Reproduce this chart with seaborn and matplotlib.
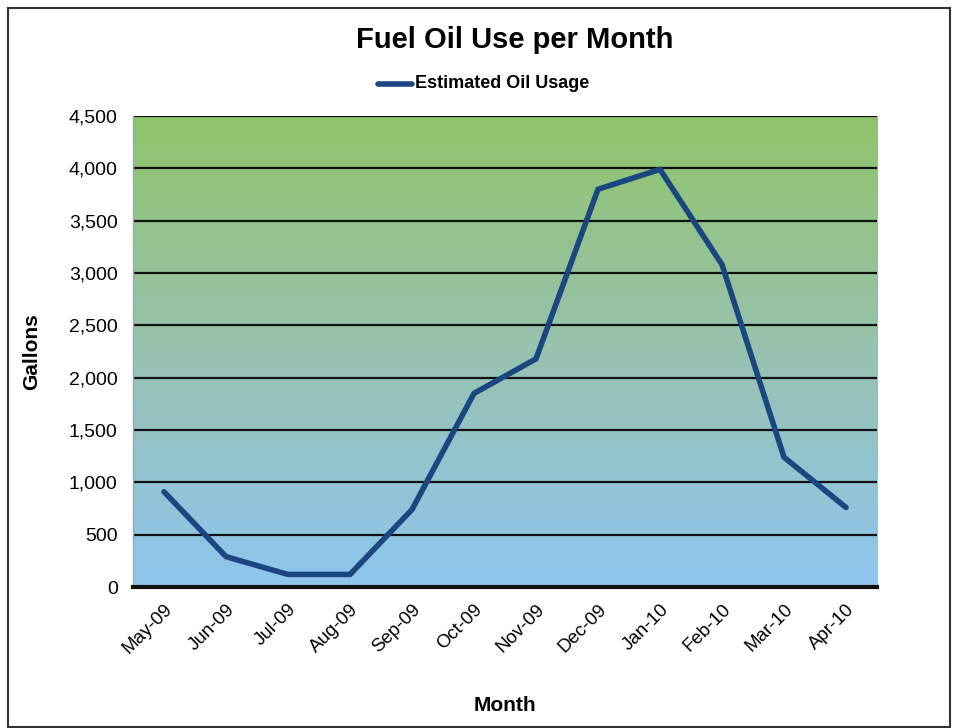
import numpy as np
import pandas as pd
import seaborn as sns
import matplotlib.pyplot as plt
from matplotlib.colors import LinearSegmentedColormap
from matplotlib.patches import Rectangle
from matplotlib.ticker import FuncFormatter, MultipleLocator

# Data
months = ["May-09", "Jun-09", "Jul-09", "Aug-09", "Sep-09", "Oct-09",
          "Nov-09", "Dec-09", "Jan-10", "Feb-10", "Mar-10", "Apr-10"]
gallons = [910, 290, 120, 120, 740, 1850, 2180, 3800, 3990, 3080, 1240, 760]

df = pd.DataFrame({"Month": months, "Gallons": gallons})
df["pos"] = np.arange(len(months))

sns.set_style("white")
plt.rcParams["font.family"] = ["Liberation Sans Narrow", "Liberation Sans", "DejaVu Sans"]
plt.rcParams["text.color"] = "black"
plt.rcParams["axes.labelcolor"] = "black"
plt.rcParams["xtick.color"] = "black"
plt.rcParams["ytick.color"] = "black"

fig = plt.figure(figsize=(9.55, 7.28), dpi=100)
ax = fig.add_axes([133 / 955, 1 - 587 / 728, (877 - 133) / 955, (587 - 116) / 728])

# Gradient background: green at top, light blue at bottom
cmap = LinearSegmentedColormap.from_list("bg", ["#8ec6f0", "#98c2b0", "#8fc46a"])
grad = np.linspace(0, 1, 256).reshape(-1, 1)
ax.imshow(grad, cmap=cmap, aspect="auto", origin="lower",
          extent=[-0.5, len(months) - 0.5, 0, 4500], zorder=0)

# horizontal gridlines
for v in np.arange(500, 4501, 500):
    ax.axhline(v, color="#111111", lw=1.6, zorder=1)

sns.lineplot(data=df, x="pos", y="Gallons", ax=ax, color="#1b467f",
             lw=4, zorder=3, label="Estimated Oil Usage", legend=False,
             solid_joinstyle="round", solid_capstyle="round")

ax.set_xlim(-0.5, len(months) - 0.5)
ax.set_ylim(0, 4500)
ax.yaxis.set_major_locator(MultipleLocator(500))
ax.yaxis.set_major_formatter(FuncFormatter(lambda v, p: f"{int(v):,}"))
ax.set_xticks(df["pos"])
ax.set_xticklabels(months, rotation=45, ha="right", rotation_mode="anchor",
                   fontsize=13.5, family="Liberation Sans")
ax.set_xticks(np.arange(0.5, len(months) - 0.5), minor=True)
ax.tick_params(axis="x", which="major", length=0, pad=10)
ax.tick_params(axis="x", which="minor", length=4, width=1.2, color="#222222",
               direction="in")
ax.tick_params(axis="y", labelsize=14, length=0, pad=11)
for lbl in ax.get_yticklabels():
    lbl.set_family("Liberation Sans")

for s in ["top", "right"]:
    ax.spines[s].set_visible(False)
ax.spines["left"].set_color("#9aaab0")
ax.spines["left"].set_linewidth(1)
ax.spines["bottom"].set_color("#111111")
ax.spines["bottom"].set_linewidth(3)
ax.spines["bottom"].set_zorder(4)

ax.set_xlabel("Month", fontsize=15, fontweight="bold", labelpad=28)
ax.set_ylabel("Gallons", fontsize=15, fontweight="bold", labelpad=20)

fig.text(515 / 955, 1 - 40 / 728, "Fuel Oil Use per Month", ha="center",
         va="center", fontsize=21, fontweight="bold")

# legend: line + label
fig.lines.append(plt.Line2D([378 / 955, 412 / 955], [1 - 84 / 728, 1 - 84 / 728],
                            transform=fig.transFigure, color="#1b467f", lw=4))
fig.text(415 / 955, 1 - 84 / 728, "Estimated Oil Usage", ha="left", va="center",
         fontsize=13, fontweight="bold")

# outer frame
fig.patches.append(Rectangle((8 / 955, 1 / 728), 942 / 955, 719 / 728,
                             transform=fig.transFigure, fill=False,
                             edgecolor="#333333", lw=1.5))

fig.savefig("out.png", dpi=100)
